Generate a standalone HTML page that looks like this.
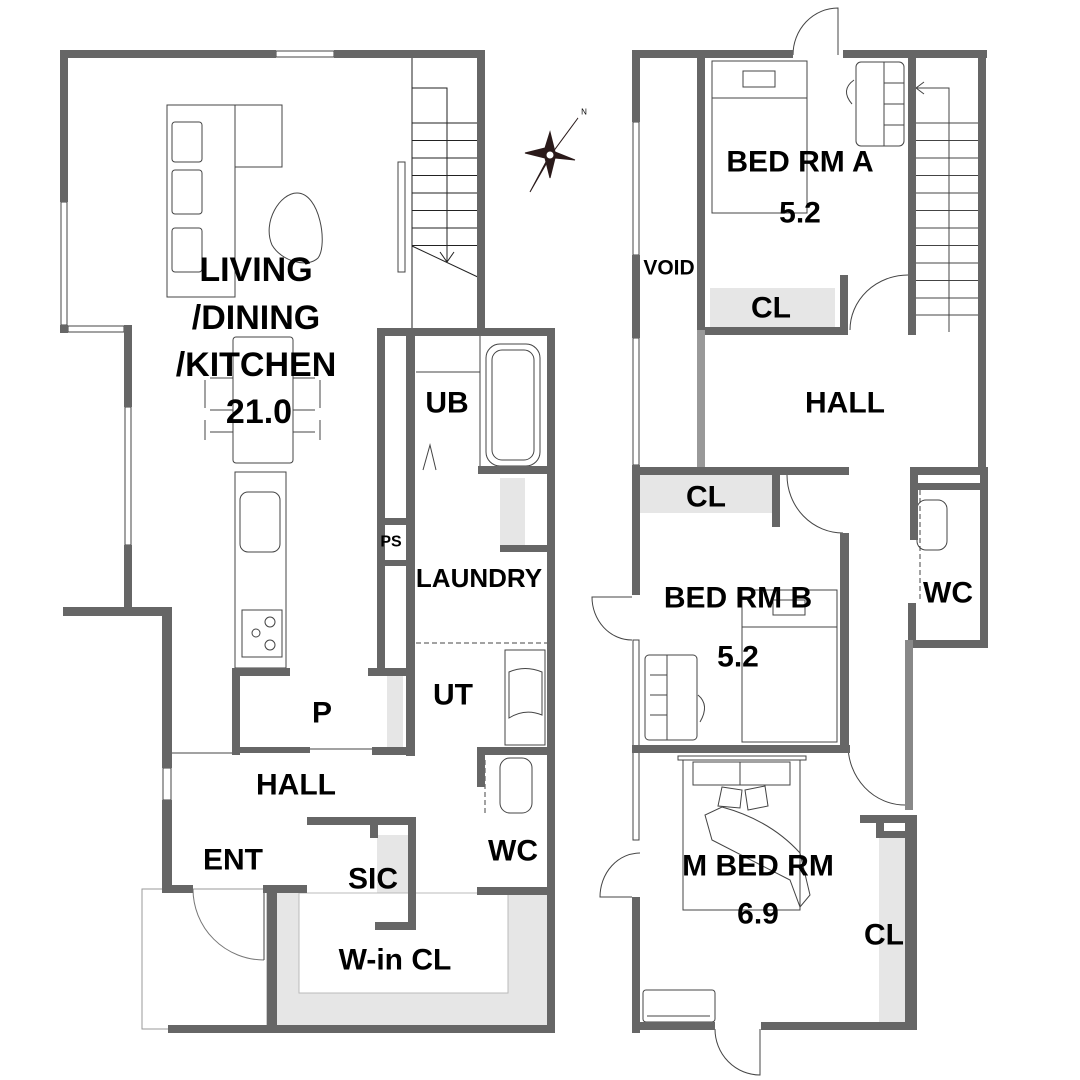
<!DOCTYPE html>
<html><head><meta charset="utf-8"><style>
html,body{margin:0;padding:0;background:#fff;}
svg{display:block}
text{font-family:"Liberation Sans",Arial,sans-serif;font-weight:bold;fill:#000;text-anchor:middle;dominant-baseline:central}
</style></head><body>
<svg width="1080" height="1080" viewBox="0 0 1080 1080" xmlns="http://www.w3.org/2000/svg">
<g fill="none" stroke="#444" stroke-width="1">
<rect x="61" y="202" width="6" height="123"/>
<rect x="68" y="326" width="56" height="6"/>
<rect x="125" y="407" width="6" height="138"/>
<rect x="163" y="768" width="8" height="32"/>
<rect x="276" y="51" width="58" height="6"/>
<rect x="142" y="889" width="125" height="140" stroke="#999"/>
<path d="M193 889 A71 71 0 0 0 264 960" stroke="#777"/>
<line x1="264" y1="889" x2="264" y2="960"/>
<rect x="412" y="53" width="70" height="279" stroke="#222"/>
<path d="M412 88 H447 V262 M440 252 L447 262 L454 252 M412 246 L482 279" stroke="#222"/>
<path d="M412 123 H482 M412 140.5 H482 M412 158 H482 M412 175.5 H482 M412 193 H482 M412 210.5 H482 M412 228 H482 M412 245.5 H482" stroke="#222"/>
<rect x="167" y="105" width="68" height="192"/>
<rect x="235" y="105" width="47" height="62"/>
<rect x="172" y="122" width="30" height="40" rx="3"/>
<rect x="172" y="170" width="30" height="44" rx="3"/>
<rect x="172" y="228" width="30" height="44" rx="3"/>
<path d="M297 193 C320 193 328 245 318 258 C308 268 282 262 272 245 C262 222 280 193 297 193Z"/>
<rect x="398" y="162" width="7" height="110"/>
<rect x="233" y="337" width="60" height="126" rx="3"/>
<path d="M210 378 H233 M293 378 H315 M210 410 H233 M293 410 H315 M210 432 H233 M293 432 H315 M205 380 V408 M320 380 V408 M205 420 V440 M320 420 V440"/>
<rect x="235" y="472" width="51" height="196"/>
<rect x="240" y="492" width="40" height="60" rx="8"/>
<rect x="242" y="610" width="40" height="47"/>
<circle cx="270" cy="622" r="5"/><circle cx="256" cy="633" r="4"/><circle cx="270" cy="645" r="5"/>
<line x1="416" y1="372" x2="480" y2="372"/>
<line x1="480" y1="336" x2="480" y2="472"/>
<rect x="486" y="344" width="54" height="122" rx="14"/>
<rect x="492" y="350" width="42" height="110" rx="10"/>
<path d="M423 470 L430 445 L436 470"/>
<line x1="416" y1="643" x2="547" y2="643" stroke-dasharray="5 3"/>
<rect x="505" y="650" width="40" height="95"/>
<path d="M509 672 Q525 665 542 672 V715 Q525 708 509 718Z"/>
<rect x="500" y="758" width="32" height="55" rx="10"/>
<line x1="485" y1="760" x2="485" y2="815" stroke-dasharray="5 3"/>
<line x1="240" y1="752" x2="310" y2="752" stroke-dasharray="5 3"/>
<line x1="172" y1="753" x2="232" y2="753"/>
<line x1="310" y1="749" x2="372" y2="749"/>
</g>
<g fill="#e6e6e6">
<rect x="277" y="893" width="270" height="132"/>
<rect x="377" y="835" width="31" height="90"/>
<rect x="387" y="676" width="16" height="72"/>
<rect x="500" y="478" width="25" height="67"/>
<rect x="710" y="288" width="125" height="39"/>
<rect x="640" y="475" width="132" height="38"/>
<rect x="879" y="838" width="26" height="184"/>
</g>
<rect x="299" y="893" width="209" height="100" fill="#fff" stroke="#bbb"/>
<g fill="#666">
<rect x="60" y="50" width="216" height="8"/>
<rect x="334" y="50" width="151" height="8"/>
<rect x="60" y="50" width="8" height="152"/>
<rect x="60" y="325" width="8" height="8"/>
<rect x="124" y="325" width="8" height="82"/>
<rect x="124" y="545" width="8" height="67"/>
<rect x="63" y="607" width="109" height="9"/>
<rect x="162" y="607" width="10" height="161"/>
<rect x="162" y="800" width="10" height="93"/>
<rect x="162" y="885" width="31" height="8"/>
<rect x="263" y="885" width="44" height="8"/>
<rect x="267" y="885" width="10" height="145"/>
<rect x="168" y="1025" width="387" height="8"/>
<rect x="547" y="328" width="8" height="705"/>
<rect x="477" y="50" width="8" height="282"/>
<rect x="377" y="328" width="178" height="8"/>
<rect x="377" y="328" width="8" height="345"/>
<rect x="406" y="336" width="9" height="420"/>
<rect x="377" y="518" width="29" height="7"/>
<rect x="377" y="560" width="29" height="6"/>
<rect x="478" y="466" width="69" height="8"/>
<rect x="500" y="545" width="47" height="7"/>
<rect x="232" y="668" width="58" height="8"/>
<rect x="232" y="668" width="8" height="87"/>
<rect x="232" y="747" width="78" height="6"/>
<rect x="368" y="668" width="47" height="8"/>
<rect x="372" y="747" width="43" height="8"/>
<rect x="477" y="747" width="78" height="8"/>
<rect x="477" y="747" width="8" height="40"/>
<rect x="477" y="887" width="78" height="8"/>
<rect x="307" y="817" width="108" height="8"/>
<rect x="408" y="817" width="8" height="111"/>
<rect x="370" y="820" width="8" height="18"/>
<rect x="375" y="922" width="41" height="8"/>
</g>
<g fill="#2a1a1a" stroke="#2a1a1a">
<path d="M578 118 L553 152 L530 192 L547 160Z"/>
<path d="M550 132 L555 152 L575 160 L555 158 L550 178 L545 158 L525 153 L545 148Z"/>
<circle cx="550" cy="155" r="4" fill="#fff"/>
</g>
<text x="584" y="112" style="font-size:8px;font-weight:normal">N</text>
<g fill="none" stroke="#444" stroke-width="1">
<path d="M793 55 A45 47 0 0 1 838 8 V55"/>
<rect x="633" y="122" width="6" height="133"/>
<rect x="633" y="338" width="6" height="127"/>
<rect x="633" y="640" width="6" height="200"/>
<rect x="712" y="61" width="95" height="152"/>
<line x1="712" y1="98" x2="807" y2="98"/>
<rect x="743" y="71" width="32" height="16"/>
<rect x="856" y="62" width="48" height="84" rx="5"/>
<path d="M884 62 V146 M884 83 H904 M884 104 H904 M884 125 H904"/>
<path d="M854 80 Q840 90 852 104"/>
<path d="M916 88 H949 V332 M924 82 L916 88 L924 94"/>
<path d="M916 123 H978 M916 140.5 H978 M916 158 H978 M916 175.5 H978 M916 193 H978 M916 210.5 H978 M916 228 H978 M916 245.5 H978 M916 263 H978 M916 280.5 H978 M916 298 H978 M916 315 H978"/>
<line x1="982" y1="53" x2="982" y2="332"/>
<path d="M850 330 A58 55 0 0 1 908 275"/>
<path d="M787 475 A56 58 0 0 0 843 533"/>
<path d="M848 745 A57 60 0 0 0 905 805"/>
<path d="M632 597 H592 A40 43 0 0 0 632 640"/>
<path d="M632 897 H600 A40 44 0 0 1 640 853"/>
<path d="M715 1029 A45 46 0 0 0 760 1075 V1029"/>
<rect x="742" y="590" width="95" height="152"/>
<line x1="742" y1="627" x2="837" y2="627"/>
<rect x="773" y="600" width="32" height="15"/>
<rect x="645" y="655" width="52" height="85" rx="4"/>
<path d="M667 655 V740 M650 675 H667 M650 695 H667 M650 715 H667 M698 695 Q710 705 700 722"/>
<rect x="678" y="756" width="128" height="4"/>
<rect x="683" y="760" width="117" height="150"/>
<path d="M693 762 H790 V785 H693Z M740 762 V785"/>
<path d="M722 787 L742 790 L740 808 L718 806Z M745 790 L765 786 L768 806 L748 810Z"/>
<path d="M722 807 Q770 820 800 853 L810 895 L800 907 L790 880 L712 840 L705 815Z"/>
<rect x="643" y="990" width="72" height="32" rx="3"/>
<line x1="647" y1="1016" x2="710" y2="1016"/>
<rect x="917" y="500" width="30" height="50" rx="9"/>
<line x1="920" y1="490" x2="920" y2="600" stroke-dasharray="5 3"/>
</g>
<g fill="#666">
<rect x="632" y="50" width="161" height="8"/>
<rect x="843" y="50" width="144" height="8"/>
<rect x="632" y="50" width="8" height="72"/>
<rect x="632" y="255" width="8" height="83"/>
<rect x="632" y="465" width="8" height="130"/>
<rect x="632" y="897" width="8" height="136"/>
<rect x="697" y="58" width="8" height="272"/>
<rect x="697" y="330" width="8" height="140" fill="#999"/>
<rect x="705" y="327" width="143" height="8"/>
<rect x="840" y="275" width="8" height="60"/>
<rect x="908" y="58" width="8" height="277"/>
<rect x="978" y="50" width="8" height="420"/>
<rect x="632" y="467" width="217" height="8"/>
<rect x="910" y="467" width="78" height="8"/>
<rect x="918" y="483" width="62" height="7"/>
<rect x="910" y="467" width="8" height="73"/>
<rect x="980" y="467" width="8" height="181"/>
<rect x="908" y="603" width="8" height="45"/>
<rect x="908" y="640" width="80" height="8"/>
<rect x="772" y="475" width="8" height="52"/>
<rect x="840" y="533" width="9" height="219"/>
<rect x="632" y="745" width="218" height="8"/>
<rect x="905" y="640" width="8" height="170" fill="#888"/>
<rect x="860" y="815" width="53" height="8"/>
<rect x="876" y="815" width="8" height="23"/>
<rect x="876" y="831" width="37" height="7"/>
<rect x="905" y="815" width="12" height="215"/>
<rect x="632" y="1022" width="83" height="8"/>
<rect x="761" y="1022" width="156" height="8"/>
</g>
<g style="font-size:34px">
<text x="256" y="270">LIVING</text>
<text x="256" y="318">/DINING</text>
<text x="256" y="365">/KITCHEN</text>
<text x="259" y="412">21.0</text>
</g>
<g style="font-size:30px">
<text x="447" y="403">UB</text>
<text x="453" y="695">UT</text>
<text x="322" y="713">P</text>
<text x="296" y="785">HALL</text>
<text x="513" y="851">WC</text>
<text x="233" y="860">ENT</text>
<text x="373" y="879">SIC</text>
<text x="395" y="960">W-in CL</text>
<text x="800" y="162">BED RM A</text>
<text x="800" y="213">5.2</text>
<text x="771" y="308">CL</text>
<text x="845" y="403">HALL</text>
<text x="706" y="497">CL</text>
<text x="738" y="598">BED RM B</text>
<text x="738" y="657">5.2</text>
<text x="948" y="593">WC</text>
<text x="758" y="866">M BED RM</text>
<text x="758" y="914">6.9</text>
<text x="884" y="935">CL</text>
</g>
<text x="479" y="578" style="font-size:26px">LAUNDRY</text>
<text x="391" y="542" style="font-size:16px">PS</text>
<text x="669" y="268" style="font-size:21px">VOID</text>
</svg>
</body></html>
